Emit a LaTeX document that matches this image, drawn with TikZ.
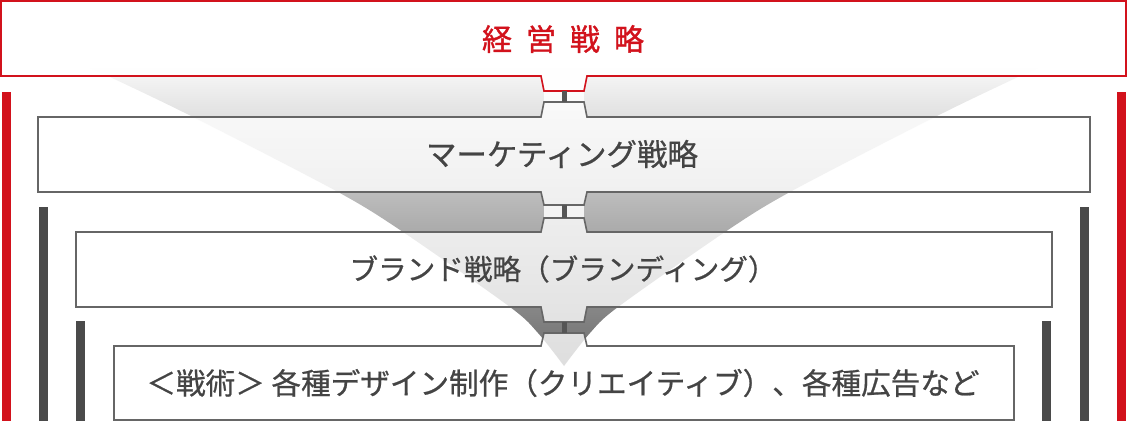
\documentclass[tikz,border=0pt]{standalone}
\usepackage{fontspec}
\newfontfamily\jp{Noto Sans CJK JP}[FakeBold=0.7]
\newfontfamily\jpb{Noto Sans CJK JP}[FakeBold=1.2]
\definecolor{brandred}{HTML}{D2121C}
\definecolor{boxgray}{HTML}{666666}
\definecolor{bargray}{HTML}{4A4A4A}
\definecolor{txtgray}{HTML}{444444}
\definecolor{stemgray}{HTML}{555555}
\begin{document}
\begin{tikzpicture}[x=1pt,y=-1pt,
  redbox/.style={draw=brandred,line width=1.6pt,fill=white,fill opacity=0.95,line join=miter},
  graybox/.style={draw=boxgray,line width=1.6pt,fill=white,fill opacity=0.78,line join=miter},
  stemline/.style={draw=stemgray,line width=5pt},
  redbar/.style={fill=brandred},
  darkbar/.style={fill=bargray},
  gapfill/.style={fill=white,fill opacity=0.85},
  titletxt/.style={font=\jpb\fontsize{30}{30}\selectfont,text=brandred,inner sep=0pt},
  lvltxt/.style={font=\jp\fontsize{28}{28}\selectfont,text=txtgray,inner sep=0pt}]
\useasboundingbox (0,0) rectangle (1128,423);
% funnel
\shade[top color=white!97!black, bottom color=black!58]
  plot[smooth] coordinates {(90,68)(110,77)(193,117)(338,192)(403,232)(510,307)(538,333)(564,366)}
  -- plot[smooth] coordinates {(564,366)(590,333)(618,307)(725,232)(790,192)(935,117)(1018,77)(1038,68)}
  -- cycle;
% side bars
\fill[redbar] (2,92) rectangle (11,421);
\fill[redbar] (1117,92) rectangle (1126,421);
\fill[darkbar] (39,207) rectangle (48,421);
\fill[darkbar] (1080,207) rectangle (1089,421);
\fill[darkbar] (76,321) rectangle (85,421);
\fill[darkbar] (1042,321) rectangle (1051,421);
% gaps between tabs
\fill[gapfill] (544,91) rectangle (584,102);
\fill[gapfill] (544,205) rectangle (584,218);
% boxes
\draw[redbox] (1,1) -- (1126,1) -- (1126,76) -- (587,76) -- (584,91) -- (544,91) -- (541,76) -- (1,76) -- cycle;
\draw[graybox] (38,117) -- (541,117) -- (544,102) -- (584,102) -- (587,117) -- (1090,117) -- (1090,192) -- (587,192) -- (584,205) -- (544,205) -- (541,192) -- (38,192) -- cycle;
\draw[graybox] (76,232) -- (541,232) -- (544,218) -- (584,218) -- (587,232) -- (1052,232) -- (1052,307) -- (587,307) -- (584,322) -- (544,322) -- (541,307) -- (76,307) -- cycle;
\draw[graybox] (114,346) -- (541,346) -- (544,333) -- (584,333) -- (587,346) -- (1014,346) -- (1014,420) -- (114,420) -- cycle;
% stems
\coordinate (s1a) at (564.5,91);  \coordinate (s1b) at (564.5,102);
\coordinate (s2a) at (564.5,205); \coordinate (s2b) at (564.5,218);
\coordinate (s3a) at (564.5,322); \coordinate (s3b) at (564.5,333);
\draw[stemline] (s1a) -- (s1b);
\draw[stemline] (s2a) -- (s2b);
\draw[stemline] (s3a) -- (s3b);
% texts
\node[titletxt] (title) at (563,39) {\spaceskip=14pt 経 営 戦 略};
\node[lvltxt,font=\jp\fontsize{30.5}{30}\selectfont] (mkt) at (562,154) {マーケティング戦略};
\node[lvltxt,font=\jp\fontsize{28.6}{30}\selectfont] (brand) at (563,269) {ブランド戦略（ブランディング）};
\node[lvltxt,font=\jp\fontsize{29.6}{30}\selectfont] (tact) at (563,383) {＜戦術＞ 各種デザイン制作（クリエイティブ）、各種広告など};
\end{tikzpicture}
\end{document}
